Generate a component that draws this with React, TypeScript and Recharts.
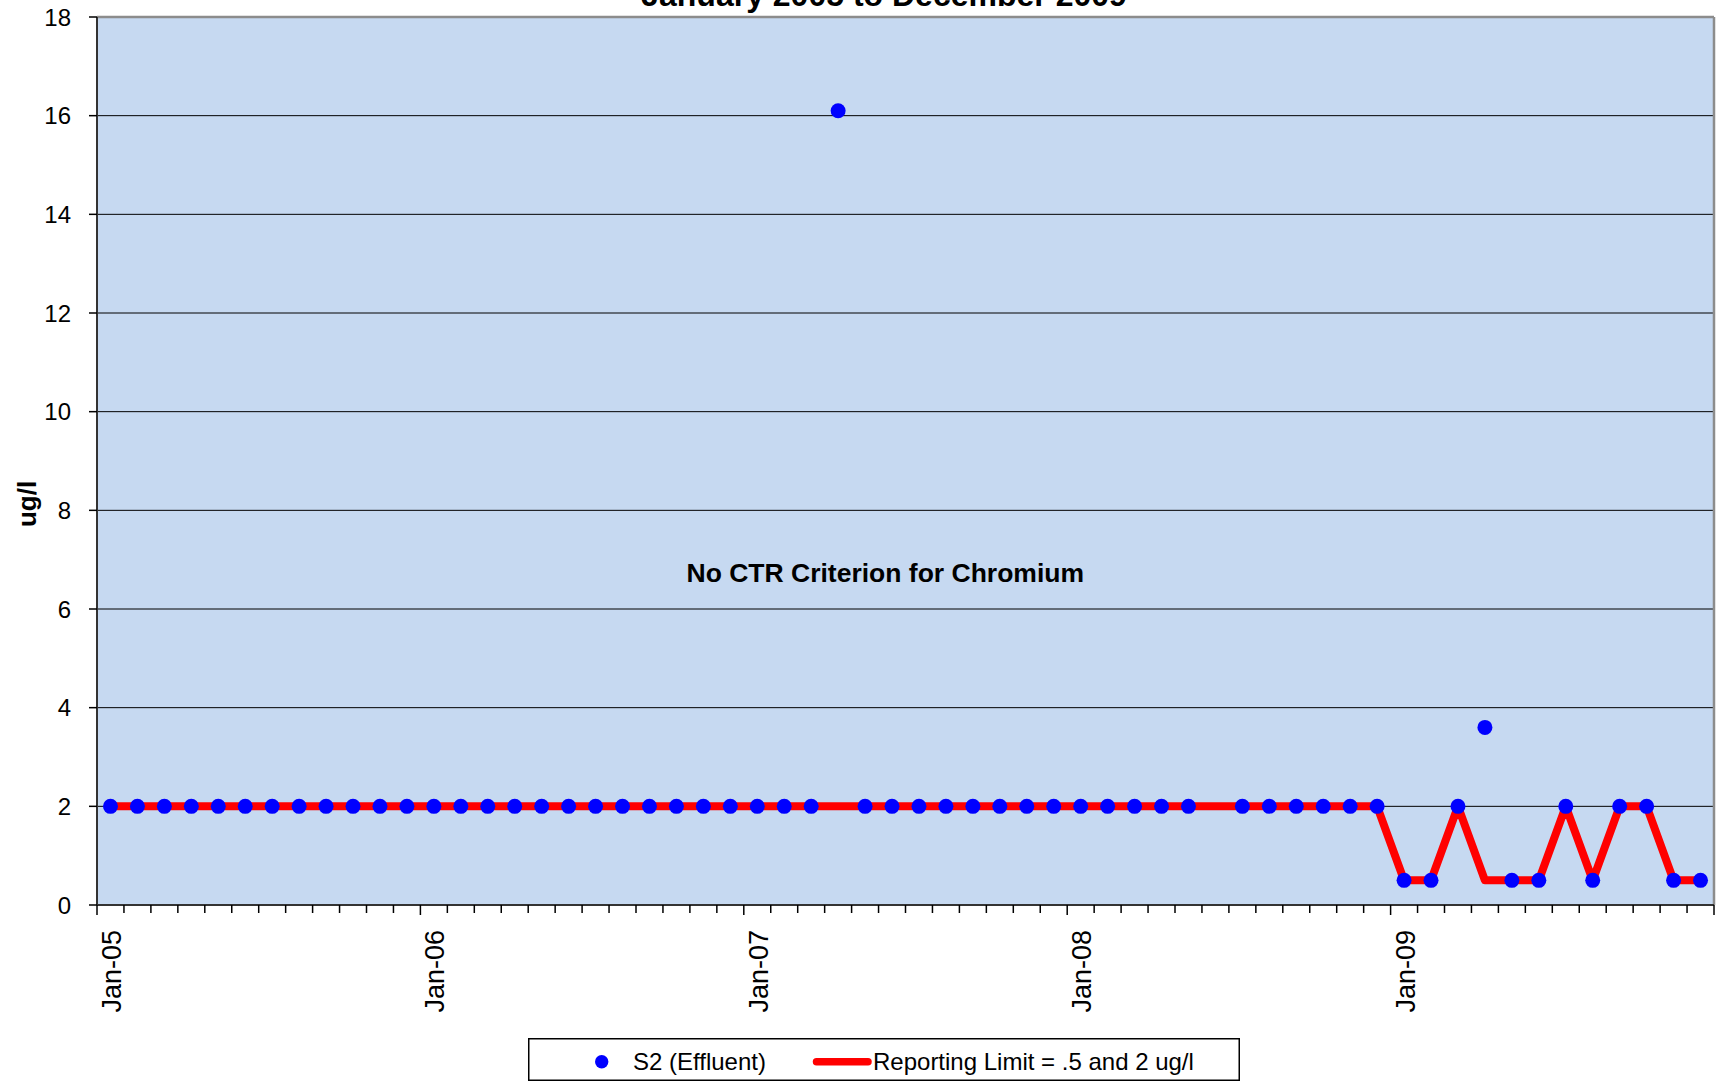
import React from "react";
import {
  ComposedChart,
  Line,
  XAxis,
  YAxis,
  CartesianGrid,
  ReferenceLine,
  ReferenceDot,
  Legend,
} from "recharts";

const FONT = "'Liberation Sans', Arial, Helvetica, sans-serif";

// monthly sampling, Jan 2005 .. Dec 2009
const monthNames = ["Jan", "Feb", "Mar", "Apr", "May", "Jun", "Jul", "Aug", "Sep", "Oct", "Nov", "Dec"];
const years = ["05", "06", "07", "08", "09"];
const months = years.flatMap((y) => monthNames.map((m) => `${m}-${y}`));

// S2 (Effluent), ug/l  (null = no sample)
const s2Effluent: (number | null)[] = [
  2, 2, 2, 2, 2, 2, 2, 2, 2, 2, 2, 2,
  2, 2, 2, 2, 2, 2, 2, 2, 2, 2, 2, 2,
  2, 2, 2, 16.1, 2, 2, 2, 2, 2, 2, 2, 2,
  2, 2, 2, 2, 2, null, 2, 2, 2, 2, 2, 2,
  0.5, 0.5, 2, 3.6, 0.5, 0.5, 2, 0.5, 2, 2, 0.5, 0.5,
];

// Reporting limit, ug/l
const reportingLimit: number[] = [
  2, 2, 2, 2, 2, 2, 2, 2, 2, 2, 2, 2,
  2, 2, 2, 2, 2, 2, 2, 2, 2, 2, 2, 2,
  2, 2, 2, 2, 2, 2, 2, 2, 2, 2, 2, 2,
  2, 2, 2, 2, 2, 2, 2, 2, 2, 2, 2, 2,
  0.5, 0.5, 2, 0.5, 0.5, 0.5, 2, 0.5, 2, 2, 0.5, 0.5,
];

const yearLabels = ["Jan-05", "Jan-06", "Jan-07", "Jan-08", "Jan-09"];
const yTicks = [0, 2, 4, 6, 8, 10, 12, 14, 16, 18];

// each month is a bucket on the axis, point sits in the middle of it
const data = months.map((m, i) => ({
  pos: i + 0.5,
  month: m,
  s2: s2Effluent[i],
  limit: reportingLimit[i],
}));

const monthEdges = Array.from({ length: months.length + 1 }, (_, i) => i);
const labelTicks = yearLabels.map((_, k) => k * 12 + 0.5);
const xTicks = [...monthEdges, ...labelTicks].sort((a, b) => a - b);

const MonthTick = (props: any) => {
  const { x, y, payload } = props;
  const v = payload.value as number;
  if (Number.isInteger(v)) {
    const major = v % 12 === 0;
    return (
      <line x1={x} x2={x} y1={y} y2={y + (major ? 10 : 8)} stroke="#000" strokeWidth={1.5} />
    );
  }
  const label = yearLabels[Math.round((v - 0.5) / 12)];
  const ty = y + 25;
  return (
    <text
      x={x + 1}
      y={ty}
      transform={`rotate(-90, ${x + 1}, ${ty})`}
      textAnchor="end"
      dy="0.35em"
      fontSize={27}
      fontFamily={FONT}
      fill="#000"
    >
      {label}
    </text>
  );
};

const LegendBox = () => (
  <svg width={712} height={43} style={{ display: "block" }}>
    <rect x={0.75} y={0.75} width={710.5} height={41.5} fill="#fff" stroke="#000" strokeWidth={1.5} />
    <circle cx={73.7} cy={23.7} r={6.7} fill="#0000FF" />
    <text x={105} y={31.5} fontSize={24} fontFamily={FONT} fill="#000">
      S2 (Effluent)
    </text>
    <line x1={288.5} x2={340} y1={23.7} y2={23.7} stroke="#FF0000" strokeWidth={7.5} strokeLinecap="round" />
    <text x={345} y={31.5} fontSize={24} fontFamily={FONT} fill="#000">
      Reporting Limit = .5 and 2 ug/l
    </text>
  </svg>
);

export default function App() {
  return (
    <div
      style={{
        position: "absolute",
        left: 0,
        top: 0,
        width: 1716,
        height: 1082,
        background: "#fff",
        overflow: "hidden",
      }}
    >
      <ComposedChart
        width={1716}
        height={1082}
        data={data}
        margin={{ top: 17, right: 2, bottom: 0, left: 0 }}
      >
        <CartesianGrid vertical={false} stroke="#000" strokeWidth={1} fill="#C6D9F1" />
        <XAxis
          dataKey="pos"
          type="number"
          domain={[0, 60]}
          ticks={xTicks}
          interval={0}
          tickSize={0}
          tickMargin={0}
          tickLine={false}
          tick={MonthTick}
          axisLine={{ stroke: "#333", strokeWidth: 2 }}
          height={177}
        />
        <YAxis
          type="number"
          domain={[0, 18]}
          ticks={yTicks}
          interval={0}
          width={97}
          tickSize={8}
          tickMargin={18}
          tick={{ fill: "#000", fontSize: 24, fontFamily: FONT }}
          tickLine={{ stroke: "#000", strokeWidth: 1.5 }}
          axisLine={{ stroke: "#333", strokeWidth: 2 }}
        />
        <ReferenceLine y={18} stroke="#8C8C8C" strokeWidth={2.5} />
        <ReferenceLine x={60} stroke="#8C8C8C" strokeWidth={2.5} />
        <ReferenceDot
          x={29.25}
          y={6.75}
          r={0}
          ifOverflow="visible"
          shape={(p: any) => (
            <text
              x={p.cx}
              y={p.cy}
              dy="0.36em"
              textAnchor="middle"
              fontSize={26.5}
              fontWeight="bold"
              fontFamily={FONT}
              fill="#000"
            >
              No CTR Criterion for Chromium
            </text>
          )}
        />
        <Line
          dataKey="limit"
          type="linear"
          stroke="#FF0000"
          strokeWidth={8}
          strokeLinejoin="round"
          dot={false}
          activeDot={false}
          isAnimationActive={false}
          name="Reporting Limit = .5 and 2 ug/l"
        />
        <Line
          dataKey="s2"
          type="linear"
          stroke="none"
          strokeWidth={0}
          dot={{ r: 7.5, fill: "#0000FF", stroke: "none" }}
          activeDot={false}
          isAnimationActive={false}
          name="S2 (Effluent)"
        />
        <Legend
          layout="horizontal"
          verticalAlign="middle"
          align="center"
          content={LegendBox}
          wrapperStyle={{ left: 528, top: 1038, width: 712, height: 43 }}
        />
      </ComposedChart>
      <svg
        width={1716}
        height={1082}
        style={{ position: "absolute", left: 0, top: 0, pointerEvents: "none" }}
      >
        <text x={884} y={6} textAnchor="middle" fontSize={32} fontWeight="bold" fontFamily={FONT} fill="#000">
          January 2005 to December 2009
        </text>
        <text
          x={36}
          y={504}
          transform="rotate(-90, 36, 504)"
          textAnchor="middle"
          fontSize={26}
          fontWeight="bold"
          fontFamily={FONT}
          fill="#000"
        >
          ug/l
        </text>
      </svg>
    </div>
  );
}
